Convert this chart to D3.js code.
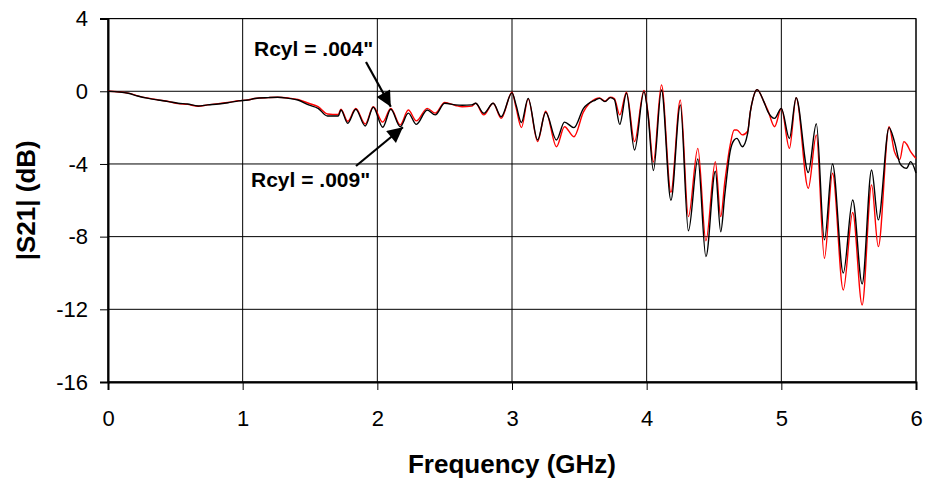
<!DOCTYPE html>
<html>
<head>
<meta charset="utf-8">
<script src="https://cdn.jsdelivr.net/npm/d3@7/dist/d3.min.js"></script>
<style>
  html, body { margin: 0; padding: 0; background: #fff; }
  svg { display: block; font-family: Arial, "Liberation Sans", sans-serif; }
</style>
</head>
<body>
<svg id="chart" width="930" height="482"></svg>
<script>
// ---- data ----
const freqGHz = [0, 0.15, 0.22, 0.30, 0.37, 0.45, 0.52, 0.59, 0.67, 0.74, 0.82, 0.89, 0.97,
  1.04, 1.09, 1.19, 1.26, 1.34, 1.41, 1.49, 1.56, 1.63, 1.71, 1.73, 1.78, 1.84, 1.91, 1.97,
  2.04, 2.10, 2.17, 2.23, 2.29, 2.37, 2.43, 2.50, 2.58, 2.63, 2.70, 2.73, 2.79, 2.86, 2.92,
  3.00, 3.03, 3.07, 3.12, 3.19, 3.25, 3.33, 3.39, 3.46, 3.53, 3.62, 3.65, 3.69, 3.73, 3.76,
  3.80, 3.85, 3.91, 3.98, 4.01, 4.05, 4.11, 4.18, 4.25, 4.31, 4.38, 4.44, 4.51, 4.55, 4.58,
  4.62, 4.65, 4.67, 4.71, 4.75, 4.77, 4.79, 4.82, 4.87, 4.90, 4.95, 5.00, 5.06, 5.11, 5.20,
  5.26, 5.32, 5.38, 5.46, 5.53, 5.60, 5.67, 5.72, 5.80, 5.84, 5.88, 5.91, 5.93, 5.96, 6.00];

const s21Black = [0, -0.11, -0.26, -0.39, -0.48, -0.57, -0.66, -0.70, -0.81, -0.75, -0.70, -0.63, -0.53,
  -0.48, -0.40, -0.35, -0.33, -0.39, -0.48, -0.75, -0.94, -1.36, -1.36, -1.03, -1.76, -0.99, -1.91, -0.88,
  -1.98, -0.99, -1.95, -1.20, -1.82, -1.03, -1.30, -0.66, -0.75, -0.77, -0.75, -0.66, -1.21, -0.66, -1.40,
  -0.09, -0.75, -1.72, -0.39, -2.68, -1.15, -2.68, -1.70, -2.00, -0.95, -0.48, -0.39, -0.57, -0.35, -0.45,
  -1.82, -0.11, -3.23, -0.02, -1.30, -4.36, 0.07, -6.00, -0.75, -7.68, -3.73, -9.10, -4.40, -7.73, -5.70,
  -3.30, -2.68, -2.59, -3.05, -2.31, -1.12, -0.39, 0.09, -0.57, -1.12, -1.49, -0.94, -2.59, -0.36, -4.47,
  -1.79, -8.18, -4.00, -10.00, -5.98, -10.60, -4.33, -7.08, -2.00, -2.77, -3.96, -4.20, -4.24, -3.87, -4.50];

const s21Red = [0, -0.10, -0.25, -0.38, -0.47, -0.56, -0.68, -0.72, -0.82, -0.75, -0.68, -0.62, -0.52,
  -0.47, -0.40, -0.35, -0.33, -0.37, -0.45, -0.66, -0.85, -1.25, -1.28, -0.98, -1.65, -0.95, -1.80, -0.85,
  -1.70, -0.95, -1.85, -1.03, -1.63, -0.94, -1.20, -0.62, -0.78, -0.85, -0.82, -0.66, -1.30, -0.66, -1.49,
  -0.05, -0.90, -2.00, -0.42, -2.77, -1.10, -3.05, -1.95, -2.50, -1.15, -0.42, -0.37, -0.55, -0.33, -0.40,
  -1.30, -0.05, -2.77, 0.05, -1.20, -3.90, 0.35, -5.56, -0.48, -6.90, -3.14, -8.23, -3.87, -6.90, -5.00,
  -2.96, -2.13, -2.13, -2.40, -2.20, -1.12, -0.39, 0.09, -0.57, -1.05, -1.95, -0.94, -3.14, -0.36, -5.34,
  -2.40, -9.19, -4.51, -10.94, -6.67, -11.76, -5.15, -8.55, -1.95, -3.32, -3.75, -2.77, -2.90, -3.32, -3.70];

const xTicks = [0, 1, 2, 3, 4, 5, 6];
const yTicks = [4, 0, -4, -8, -12, -16];
const annotations = [
  { text: 'Rcyl = .004"', tipF: 2.10, tipV: -0.85 },
  { text: 'Rcyl = .009"', tipF: 2.19, tipV: -1.98 }
];

(function draw() {
  const svg = d3.select("#chart");
  const pL = 108, pR = 916, pT = 18.6, pB = 382;
  const x = d3.scaleLinear().domain([0, 6]).range([pL, pR]);
  const y = d3.scaleLinear().domain([-16, 4]).range([pB, pT]);
  const fmt = d => String(d);

  // gridlines
  const grid = svg.append("g");
  grid.selectAll("line.v").data(xTicks).join("line").attr("class", "v")
    .attr("x1", d => x(d)).attr("x2", d => x(d))
    .attr("y1", pT).attr("y2", pB)
    .attr("stroke", "#000").attr("stroke-width", 1);
  grid.selectAll("line.h").data(yTicks).join("line").attr("class", "h")
    .attr("x1", pL).attr("x2", pR)
    .attr("y1", d => y(d)).attr("y2", d => y(d))
    .attr("stroke", "#000").attr("stroke-width", 1);

  // plot frame
  svg.append("rect").attr("x", pL).attr("y", pT)
    .attr("width", pR - pL).attr("height", pB - pT)
    .attr("fill", "none").attr("stroke", "#000").attr("stroke-width", 1);

  // axes
  const xAxis = svg.append("g").attr("transform", `translate(0,${pB})`)
    .call(d3.axisBottom(x).tickValues(xTicks).tickSize(8).tickPadding(20).tickFormat(fmt));
  const yAxis = svg.append("g").attr("transform", `translate(${pL},0)`)
    .call(d3.axisLeft(y).tickValues(yTicks).tickSize(8).tickPadding(12).tickFormat(fmt));
  [xAxis, yAxis].forEach(a => {
    a.select(".domain").attr("stroke", "#000").attr("stroke-width", 2);
    a.selectAll(".tick line").attr("stroke", "#000").attr("stroke-width", 1);
    a.selectAll("text").attr("fill", "#000").style("font-size", "22px")
      .style("font-family", "Arial, 'Liberation Sans', sans-serif");
  });

  // series lines
  const pts = (vals) => freqGHz.map((f, i) => [f, vals[i]]);
  const line = d3.line().x(d => x(d[0])).y(d => y(d[1])).curve(d3.curveMonotoneX);
  svg.append("path").datum(pts(s21Red)).attr("d", line)
    .attr("fill", "none").attr("stroke", "#ff0000").attr("stroke-width", 1.4);
  svg.append("path").datum(pts(s21Black)).attr("d", line)
    .attr("fill", "none").attr("stroke", "#000").attr("stroke-width", 1.4);

  // axis titles
  svg.append("text").attr("x", (pL + pR) / 2).attr("y", 473)
    .attr("text-anchor", "middle").style("font-weight", "bold").style("font-size", "26px")
    .text("Frequency (GHz)");
  svg.append("text").attr("transform", `translate(35,${(pT + pB) / 2}) rotate(-90)`)
    .attr("text-anchor", "middle").style("font-weight", "bold").style("font-size", "26px")
    .text("|S21| (dB)");

  // annotations with arrows
  svg.append("defs").append("marker").attr("id", "ah")
    .attr("viewBox", "0 0 10 10").attr("refX", 10).attr("refY", 5)
    .attr("markerWidth", 8).attr("markerHeight", 7).attr("markerUnits", "strokeWidth")
    .attr("orient", "auto")
    .append("path").attr("d", "M0,0 L10,5 L0,10 z").attr("fill", "#000");

  const ann = svg.append("g");
  ann.append("text").attr("x", 254).attr("y", 56).style("font-weight", "bold").style("font-size", "21px")
    .text(annotations[0].text);
  ann.append("line").attr("x1", 366).attr("y1", 62)
    .attr("x2", x(annotations[0].tipF)).attr("y2", y(annotations[0].tipV))
    .attr("stroke", "#000").attr("stroke-width", 2.2).attr("marker-end", "url(#ah)");
  ann.append("text").attr("x", 251).attr("y", 187).style("font-weight", "bold").style("font-size", "21px")
    .text(annotations[1].text);
  ann.append("line").attr("x1", 356).attr("y1", 166)
    .attr("x2", x(annotations[1].tipF)).attr("y2", y(annotations[1].tipV))
    .attr("stroke", "#000").attr("stroke-width", 2.2).attr("marker-end", "url(#ah)");
})();
</script>
</body>
</html>
